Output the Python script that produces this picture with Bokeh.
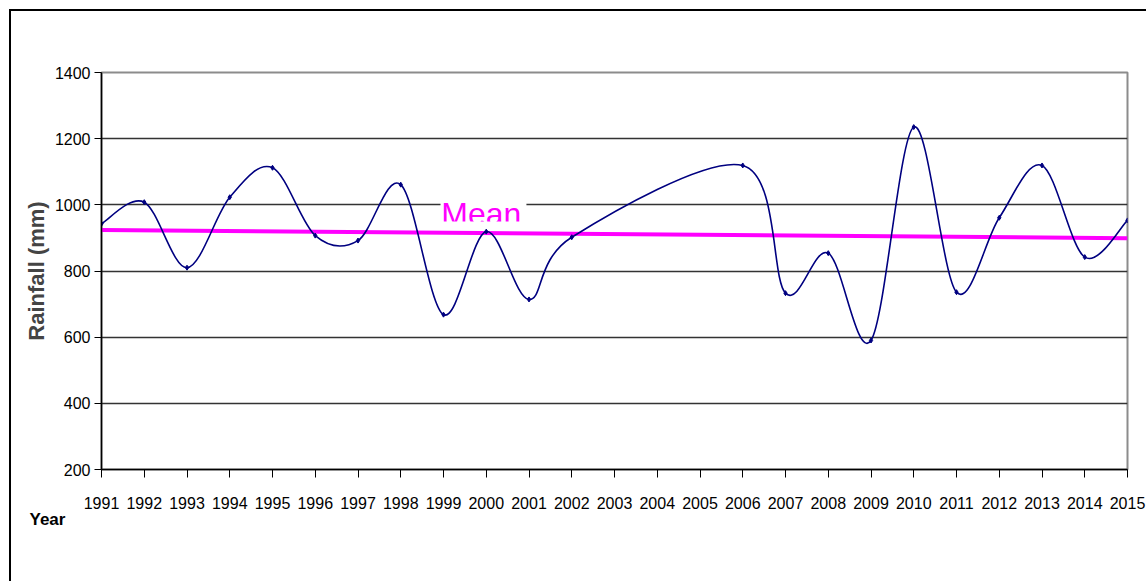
from bokeh.plotting import figure
from bokeh.models import FixedTicker, Range1d, Title
from bokeh.core.properties import value
from bokeh.embed import file_html
from bokeh.resources import INLINE

# ---- data ----
years = [1991, 1992, 1993, 1994, 1995, 1996, 1997, 1998, 1999, 2000, 2001, 2002,
         2006, 2007, 2008, 2009, 2010, 2011, 2012, 2013, 2014, 2015]
rainfall = [943, 1008, 810, 1023, 1112, 907, 892, 1061, 668, 919, 714, 902,
            1119, 733, 854, 590, 1235, 736, 961, 1119, 842, 953]
mean_years = [1991, 2015]
mean_values = [924, 899]
x_ticks = list(range(1991, 2016))
x_tick_labels = [str(y) for y in x_ticks]
y_ticks = [200, 400, 600, 800, 1000, 1200, 1400]

NAVY = "#000080"
MAGENTA = "#FF00FF"
TICK_FONT = "Liberation Sans"

p = figure(width=1137, height=572, output_backend="svg", toolbar_location=None,
           x_range=Range1d(1991, 2015), y_range=Range1d(200, 1400),
           min_border_left=90, min_border_right=21, min_border_top=61,
           min_border_bottom=114,
           background_fill_color="white", border_fill_color="white",
           outline_line_color="#8c8c8c", outline_line_width=2,
           styles={"margin-left": "9px", "margin-top": "9px",
                   "border-left": "2px solid black", "border-top": "2px solid black"})

# axes
p.xaxis.ticker = FixedTicker(ticks=x_ticks)
p.xaxis.major_label_overrides = {y: l for y, l in zip(x_ticks, x_tick_labels)}
p.yaxis.ticker = FixedTicker(ticks=y_ticks)
for ax in (p.xaxis[0], p.yaxis[0]):
    ax.axis_line_color = "black"
    ax.axis_line_width = 1.5
    ax.major_tick_line_color = "black"
    ax.major_tick_in = 0
    ax.minor_tick_line_color = None
    ax.major_label_text_font = TICK_FONT
    ax.major_label_text_font_size = "16px"
    ax.major_label_text_color = "black"
p.xaxis.major_tick_out = 8
p.xaxis.major_label_standoff = 19
p.yaxis.major_tick_out = 7
p.yaxis.major_label_standoff = 4
p.yaxis.axis_label = "Rainfall (mm)"
p.yaxis.axis_label_text_font = "Liberation Sans"
p.yaxis.axis_label_text_font_style = "bold"
p.yaxis.axis_label_text_font_size = "22px"
p.yaxis.axis_label_standoff = 3

p.xgrid.grid_line_color = None
p.ygrid.grid_line_color = "#333333"
p.ygrid.grid_line_width = 1.5

# "Mean" text box (white background, text clipped at the box bottom)
p.quad(left=[1998.93], right=[2000.94], top=[1028], bottom=[949.6],
       fill_color="white", line_color=None)
p.text(x=[1998.95], y=[1026.6], text=["Mean"], text_color=MAGENTA,
       text_font=value("Liberation Sans"), text_font_size="32px",
       text_baseline="top", text_align="left")
p.quad(left=[1998.93], right=[2000.94], top=[949.6], bottom=[934],
       fill_color="white", line_color=None)

# mean / trend line
p.line(mean_years, mean_values, line_color=MAGENTA, line_width=4)

# smoothed rainfall curve (Catmull-Rom style Bezier segments from the data)
n = len(years)
x0, y0, x1, y1, cx0, cy0, cx1, cy1 = [], [], [], [], [], [], [], []
for i in range(n - 1):
    a = i - 1 if i > 0 else i
    d = i + 2 if i + 2 < n else i + 1
    x0.append(years[i]); y0.append(rainfall[i])
    x1.append(years[i + 1]); y1.append(rainfall[i + 1])
    cx0.append(years[i] + (years[i + 1] - years[a]) / 6)
    cy0.append(rainfall[i] + (rainfall[i + 1] - rainfall[a]) / 6)
    cx1.append(years[i + 1] - (years[d] - years[i]) / 6)
    cy1.append(rainfall[i + 1] - (rainfall[d] - rainfall[i]) / 6)
p.bezier(x0=x0, y0=y0, x1=x1, y1=y1, cx0=cx0, cy0=cy0, cx1=cx1, cy1=cy1,
         line_color=NAVY, line_width=1.6)
p.scatter(years, rainfall, marker="diamond", size=5, fill_color=NAVY,
          line_color=NAVY)

# "Year" label at the lower left, below the x axis
p.add_layout(Title(text="Year", align="left", offset=-72, standoff=-8,
                   text_font="Liberation Sans", text_font_style="bold",
                   text_font_size="17px", text_color="black"), "below")

open("out.html", "w").write(file_html(p, INLINE))
